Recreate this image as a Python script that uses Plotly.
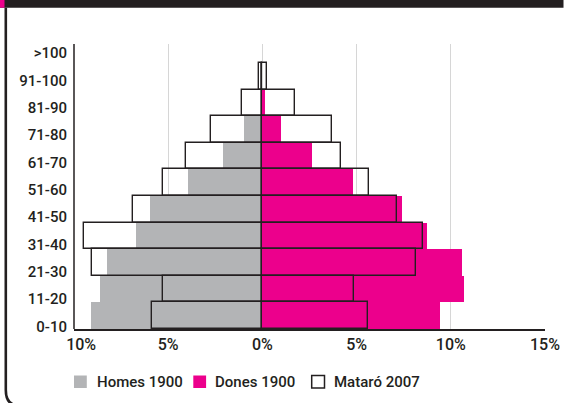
import plotly.graph_objects as go

# ---- data (percent of population) ----
age_groups = ["0-10", "11-20", "21-30", "31-40", "41-50", "51-60",
              "61-70", "71-80", "81-90", "91-100", ">100"]
homes_1900 = [9.08, 8.60, 8.23, 6.69, 5.95, 3.97, 2.10, 0.97, 0.00, 0.14]
dones_1900 = [9.42, 10.69, 10.58, 8.73, 7.40, 4.81, 2.63, 0.99, 0.14, 0.00]
mataro_2007_homes = [5.86, 5.30, 9.04, 9.49, 6.87, 5.28, 4.04, 2.73, 1.06, 0.16]
mataro_2007_dones = [5.62, 4.84, 8.16, 8.50, 7.17, 5.65, 4.17, 3.68, 1.72, 0.25]
x_tick_values = [-10, -5, 0, 5, 10, 15]
x_tick_text = ["10%", "5%", "0%", "5%", "10%", "15%"]
legend_names = ["Homes 1900", "Dones 1900", "Mataró 2007"]

GRAY = "#b3b4b6"
PINK = "#ec008c"
DARK = "#231f20"
FONT = "Roboto, DejaVu Sans Condensed, sans-serif"

W, H = 586, 403
ML, MR, MT, MB = 74, 41, 44, 74
PW, PH = W - ML - MR, H - MT - MB

n = len(homes_1900)
ypos = [i + 0.5 for i in range(n)]
y_top = PH / 26.6  # band height of ~26.6 px

fig = go.Figure()
fig.add_trace(go.Bar(y=ypos, x=[-v for v in homes_1900], orientation="h", width=1,
                     marker=dict(color=GRAY, line=dict(width=0)), name=legend_names[0],
                     showlegend=False))
fig.add_trace(go.Bar(y=ypos, x=dones_1900, orientation="h", width=1,
                     marker=dict(color=PINK, line=dict(width=0)), name=legend_names[1],
                     showlegend=False))
fig.add_trace(go.Bar(y=ypos, x=[-v for v in mataro_2007_homes], orientation="h", width=1,
                     xaxis="x2",
                     marker=dict(color="rgba(0,0,0,0)", line=dict(color=DARK, width=1.4)),
                     name=legend_names[2], showlegend=False))
fig.add_trace(go.Bar(y=ypos, x=mataro_2007_dones, orientation="h", width=1,
                     xaxis="x2",
                     marker=dict(color="rgba(0,0,0,0)", line=dict(color=DARK, width=1.4)),
                     name=legend_names[2], showlegend=False))

# y tick labels sit near the lower edge of each band, slightly wider spacing
ytick_vals = [0.098 + 1.0275 * j for j in range(len(age_groups))]

# shifted position for leftmost label (kept inside the axis)
x2_vals = list(x_tick_values)
x2_vals[0] = -9.62

def px2x(px):
    return (px - ML) / PW

def py2y(py):
    return (H - MB - py) / PH

shapes = []
# header bar
shapes.append(dict(type="rect", xref="paper", yref="paper",
                   x0=px2x(-2), x1=px2x(563.5), y0=py2y(7.7), y1=py2y(-2),
                   fillcolor=DARK, line=dict(width=0), layer="above"))
shapes.append(dict(type="rect", xref="paper", yref="paper",
                   x0=px2x(-2), x1=px2x(4.5), y0=py2y(7.7), y1=py2y(-2),
                   fillcolor=PINK, line=dict(width=0), layer="above"))
# frame (left side with rounded bottom corner)
pts = (f"M {px2x(5.8)},{py2y(7.7)} L {px2x(5.8)},{py2y(390)} "
       f"Q {px2x(5.8)},{py2y(405.5)} {px2x(19)},{py2y(405.5)} L {px2x(590)},{py2y(405.5)}")
shapes.append(dict(type="path", xref="paper", yref="paper", path=pts,
                   line=dict(color=DARK, width=2.6)))
# y axis line (left edge of plot)
shapes.append(dict(type="line", xref="paper", yref="paper", x0=0, x1=0, y0=0, y1=1,
                   line=dict(color=DARK, width=1.5), layer="above"))

# legend
legend_sq = [(74, GRAY, GRAY), (193.3, PINK, PINK), (311.7, "white", DARK)]
legend_tx = [95.7, 214.3, 332.7]
annotations = []
for (x0, fc, lc), tx, name in zip(legend_sq, legend_tx, legend_names):
    shapes.append(dict(type="rect", xref="paper", yref="paper",
                       x0=px2x(x0), x1=px2x(x0 + 12.8), y0=py2y(388), y1=py2y(375.5),
                       fillcolor=fc, line=dict(color=lc, width=1.5 if lc == DARK else 0)))
    annotations.append(dict(xref="paper", yref="paper", x=px2x(tx - 1), y=py2y(381.8),
                            xanchor="left", yanchor="middle", text=name, showarrow=False,
                            font=dict(family=FONT, size=15, color=DARK, weight=500)))

fig.update_layout(
    width=W, height=H,
    margin=dict(l=ML, r=MR, t=MT, b=MB, pad=0),
    paper_bgcolor="white", plot_bgcolor="white",
    barmode="overlay", bargap=0,
    font=dict(family=FONT, color=DARK),
    xaxis=dict(range=[-10, 15], tickvals=x_tick_values, showticklabels=False,
               showgrid=True, gridcolor="#d6d6d6", gridwidth=1.3, zeroline=False,
               showline=True, linecolor=DARK, linewidth=1.5, ticks="", fixedrange=True,
               automargin=False),
    xaxis2=dict(range=[-10, 15], overlaying="x", anchor="y", side="bottom",
                tickvals=x2_vals, ticktext=x_tick_text, showgrid=False, zeroline=False,
                showline=False, ticks="", ticklabelstandoff=4, automargin=False,
                tickfont=dict(family=FONT, size=16, color=DARK, weight=500)),
    yaxis=dict(range=[0, y_top], tickvals=ytick_vals, ticktext=age_groups,
               showgrid=False, zeroline=False, showline=False,
               ticks="", ticklabelstandoff=6, automargin=False,
               tickfont=dict(family=FONT, size=15, color=DARK, weight=500)),
    shapes=shapes, annotations=annotations, showlegend=False,
)

fig.write_html("out.html", config={"displayModeBar": False},
               post_script="document.body.style.margin='0';document.body.style.overflow='hidden';")
